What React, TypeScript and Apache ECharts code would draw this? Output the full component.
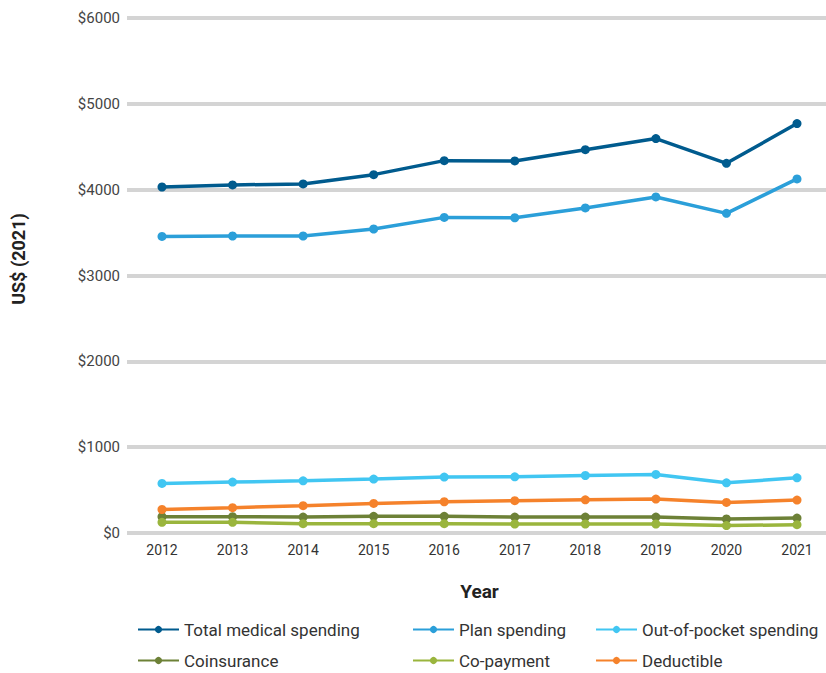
import React, { useEffect, useRef } from "react";
import * as echarts from "echarts";

const years = ["2012", "2013", "2014", "2015", "2016", "2017", "2018", "2019", "2020", "2021"];
const totalMedical = [4031, 4055, 4067, 4175, 4338, 4335, 4466, 4595, 4307, 4770];
const planSpending = [3455, 3460, 3460, 3542, 3677, 3673, 3787, 3915, 3724, 4125];
const outOfPocket = [577, 593, 608, 628, 651, 655, 670, 682, 585, 643];
const coinsurance = [190, 190, 186, 194, 194, 186, 186, 186, 163, 174];
const coPayment = [124, 124, 109, 109, 109, 105, 105, 105, 86, 97];
const deductible = [274, 295, 318, 345, 364, 376, 387, 395, 356, 384];
const yTicks = [0, 1000, 2000, 3000, 4000, 5000, 6000];

const seriesDefs = [
  { name: "Total medical spending", data: totalMedical, color: "#005b8e" },
  { name: "Plan spending", data: planSpending, color: "#2b9fd9" },
  { name: "Out-of-pocket spending", data: outOfPocket, color: "#41c6f2" },
  { name: "Coinsurance", data: coinsurance, color: "#6d8137" },
  { name: "Co-payment", data: coPayment, color: "#9ab53d" },
  { name: "Deductible", data: deductible, color: "#f5822b" },
];

const legendPos = [
  { left: 137, top: 621 },
  { left: 412, top: 621 },
  { left: 595, top: 621 },
  { left: 137, top: 652 },
  { left: 412, top: 652 },
  { left: 595, top: 652 },
];

const FONT = "Roboto, 'DejaVu Sans', sans-serif";

export default function App() {
  const ref = useRef<HTMLDivElement>(null);
  useEffect(() => {
    if (!ref.current) return;
    const chart = echarts.init(ref.current, undefined, { renderer: "svg" });
    const yMin = yTicks[0];
    const yMax = yTicks[yTicks.length - 1];
    chart.setOption({
      animation: false,
      backgroundColor: "#ffffff",
      textStyle: { fontFamily: FONT },
      grid: [
        { left: 127, right: 0, top: 18, height: 515 },
        { left: 162, right: 29, top: 18, height: 515 },
      ],
      legend: seriesDefs.map((s, i) => ({
        data: [{ name: s.name, itemStyle: { color: s.color } }],
        left: legendPos[i].left,
        top: legendPos[i].top,
        itemWidth: 41,
        itemHeight: 9,
        itemGap: 6,
        padding: 0,
        selectedMode: false,
        textStyle: { fontFamily: FONT, fontSize: 17, color: "#333333" },
      })),
      graphic: [
        {
          type: "text",
          x: 18,
          y: 259,
          rotation: Math.PI / 2,
          style: {
            text: "US$ (2021)",
            fontFamily: FONT,
            fontSize: 18,
            fontWeight: "bold",
            fill: "#222222",
            align: "center",
            verticalAlign: "middle",
          },
        },
      ],
      xAxis: [
        {
          gridIndex: 0,
          type: "category",
          data: years,
          show: false,
        },
        {
          gridIndex: 1,
          type: "category",
          data: years,
          boundaryGap: false,
          axisLine: { show: false },
          axisTick: { show: false },
          splitLine: { show: false },
          axisLabel: { fontFamily: FONT, fontSize: 14, color: "#333333", margin: 10 },
          name: "Year",
          nameLocation: "middle",
          nameGap: 49,
          nameTextStyle: { fontFamily: FONT, fontSize: 19, fontWeight: "bold", color: "#222222" },
        },
      ],
      yAxis: [
        {
          gridIndex: 0,
          type: "value",
          min: yMin,
          max: yMax,
          interval: 1000,
          axisLine: { show: false },
          axisTick: { show: false },
          axisLabel: {
            fontFamily: FONT,
            fontSize: 15,
            color: "#444444",
            margin: 7,
            formatter: (v: number) => "$" + v,
          },
          splitLine: { lineStyle: { color: "#d4d4d4", width: 4 } },
        },
        {
          gridIndex: 1,
          type: "value",
          min: yMin,
          max: yMax,
          interval: 1000,
          show: false,
          splitLine: { show: false },
        },
      ],
      series: seriesDefs.map((s) => ({
        name: s.name,
        type: "line",
        xAxisIndex: 1,
        yAxisIndex: 1,
        data: s.data,
        symbol: "circle",
        symbolSize: 9,
        lineStyle: { width: 3.5, color: s.color },
        itemStyle: { color: s.color },
        emphasis: { disabled: true },
      })),
    });
    return () => chart.dispose();
  }, []);
  return (
    <div
      ref={ref}
      style={{ position: "absolute", left: 0, top: 0, width: 826, height: 673 }}
    />
  );
}
